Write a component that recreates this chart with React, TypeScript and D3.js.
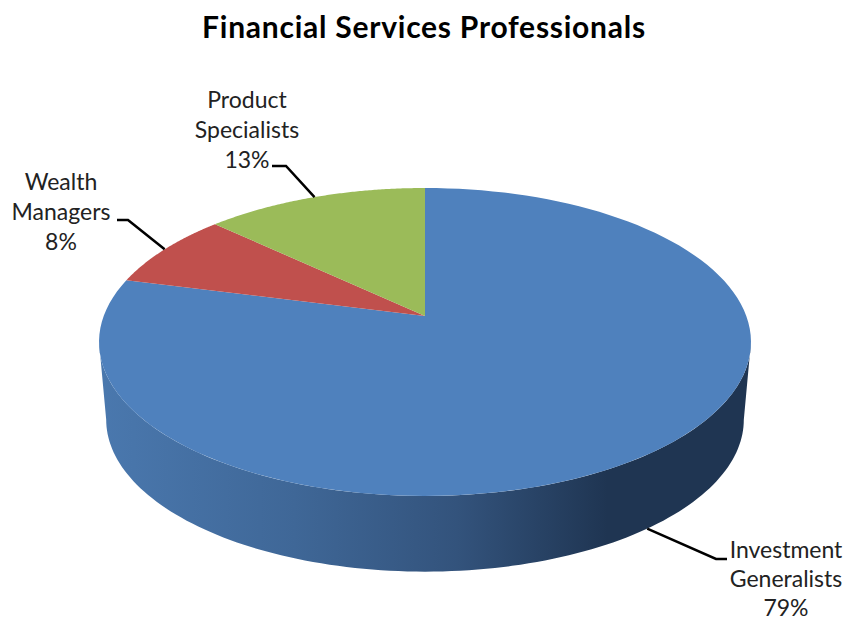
import React from 'react';
import * as d3 from 'd3';

const categories = ['Investment Generalists', 'Wealth Managers', 'Product Specialists'];
const shares = [79, 8, 13];
const percentLabels = ['79%', '8%', '13%'];
const sliceColors = ['#4f81bd', '#c0504d', '#9bbb59'];

const labelLines = [
  ['Investment', 'Generalists', '79%'],
  ['Wealth', 'Managers', '8%'],
  ['Product', 'Specialists', '13%'],
];
// centre x, first baseline, line gap
const labelPos = [
  [786, 558, 29],
  [61, 190, 30],
  [247, 108, 30],
];
// where the leader meets the label
const elbows = [
  [[727, 559], [716, 559]],
  [[117, 220], [128, 220]],
  [[272, 166], [286, 166]],
];

const WIDTH = 847;
const HEIGHT = 621;
const APEX_X = 425;
const APEX_Y = 316;

// Excel style perspective: a unit circle pushed through a projective map
const PERSP = -0.1688;
const KX = 321.3;
const KY = 149.6;
const WALL_DY = 78;
const WALL_SX = 0.978;
const WALL_SY = 0.987;

const project = (t: number, bottom = false): [number, number] => {
  const u = Math.sin(t);
  const v = -Math.cos(t);
  const w = 1 + PERSP * v;
  const x = (KX * u) / w;
  const y = (KY * v) / w;
  return bottom
    ? [APEX_X + x * WALL_SX, APEX_Y + WALL_DY + y * WALL_SY]
    : [APEX_X + x, APEX_Y + y];
};

const sampleRim = (a0: number, a1: number, bottom = false) =>
  d3.range(0, 121).map(i => project(a0 + ((a1 - a0) * i) / 120, bottom));

const line = d3.line();

export default function App() {
  // keep the 79% slice running clockwise from 12 o'clock
  const arcs = d3
    .pie<number>()
    .sort(null)
    .value(d => d)(shares);

  const frontStart = Math.acos(PERSP);
  const frontEnd = 2 * Math.PI - frontStart;
  const wall = [...sampleRim(frontStart, frontEnd), ...sampleRim(frontEnd, frontStart, true)];

  return (
    <svg
      width={WIDTH}
      height={HEIGHT}
      style={{ position: 'absolute', left: 0, top: 0, background: '#fff' }}
      fontFamily="Lato, 'Open Sans', sans-serif"
    >
      <defs>
        <linearGradient id="wall" gradientUnits="userSpaceOnUse" x1={99} x2={751} y1={0} y2={0}>
          <stop offset="0" stopColor="#4a78ae" />
          <stop offset="0.3" stopColor="#3f6797" />
          <stop offset="0.55" stopColor="#33537c" />
          <stop offset="0.78" stopColor="#1f3552" />
          <stop offset="1" stopColor="#1f3552" />
        </linearGradient>
      </defs>

      <text
        x={424}
        y={38}
        textAnchor="middle"
        fontSize={30}
        fontWeight={700}
        letterSpacing={0.75}
        fill="#000"
      >
        Financial Services Professionals
      </text>

      <path d={line(wall) + 'Z'} fill="url(#wall)" />

      {arcs.map((a, i) => (
        <path
          key={categories[i]}
          d={line([[APEX_X, APEX_Y], ...sampleRim(a.startAngle, a.endAngle)]) + 'Z'}
          fill={sliceColors[i]}
        />
      ))}

      {arcs.map((a, i) => {
        const mid = (a.startAngle + a.endAngle) / 2;
        const end = project(mid, i === 0);
        const [from, knee] = elbows[i];
        return (
          <path
            key={percentLabels[i]}
            d={line([from as [number, number], knee as [number, number], end]) || ''}
            fill="none"
            stroke="#000"
            strokeWidth={2.5}
          />
        );
      })}

      {labelLines.map((lines, i) => (
        <text key={lines[0]} textAnchor="middle" fontSize={23} fill="#222">
          {lines.map((s, j) => (
            <tspan key={s} x={labelPos[i][0]} y={labelPos[i][1] + j * labelPos[i][2]}>
              {s}
            </tspan>
          ))}
        </text>
      ))}
    </svg>
  );
}
